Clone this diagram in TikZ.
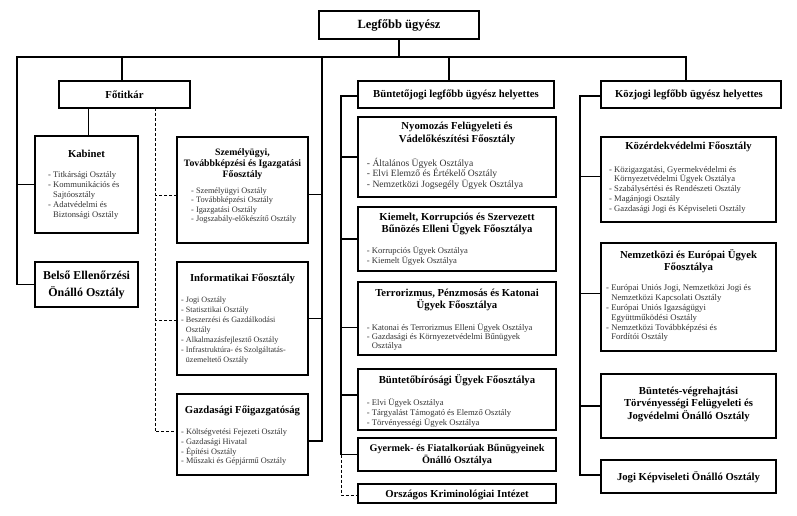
\documentclass[tikz,border=0pt]{standalone}
\usepackage{fontspec}
\setmainfont{Liberation Serif}
\newcommand\ist{\rule{0pt}{8.5pt}}
\newcommand\hg{\hphantom{- }}
\begin{document}
\begin{tikzpicture}[x=1pt,y=-1pt,
  box/.style={draw, line width=1.5pt, inner sep=0pt, outer sep=0pt, anchor=north west},
  conn/.style={line width=1.2pt},
  dconn/.style={line width=0.9pt, dash pattern=on 3pt off 2pt},
  ttl/.style={font=\bfseries\fontsize{10.7}{12}\selectfont, align=center, inner sep=0pt},
  itm/.style={font=\fontsize{8.6}{10}\selectfont, text=black!80, align=left, anchor=north west, inner sep=0pt}]
\useasboundingbox[fill=white] (0,0) rectangle (797,516);

% ---------- boxes ----------
\node[box, minimum width=160pt, minimum height=28pt] (top) at (319,11) {};
\node[box, minimum width=131pt, minimum height=27pt] (fo) at (59,81) {};
\node[box, minimum width=103pt, minimum height=97pt] (kab) at (35,136) {};
\node[box, minimum width=103pt, minimum height=45pt] (bel) at (35,262) {};
\node[box, minimum width=131pt, minimum height=106pt] (szem) at (177,137) {};
\node[box, minimum width=131pt, minimum height=113pt] (inf) at (177,262) {};
\node[box, minimum width=131pt, minimum height=81pt] (gaz) at (177,394) {};
\node[box, minimum width=196pt, minimum height=27pt] (bj) at (358,81) {};
\node[box, minimum width=198pt, minimum height=80pt] (nyo) at (358,117) {};
\node[box, minimum width=198pt, minimum height=64pt] (kie) at (358,207) {};
\node[box, minimum width=198pt, minimum height=73pt] (ter) at (358,282) {};
\node[box, minimum width=198pt, minimum height=61pt] (bir) at (358,369) {};
\node[box, minimum width=198pt, minimum height=33pt] (gyer) at (358,438) {};
\node[box, minimum width=198pt, minimum height=19pt] (orsz) at (358,484) {};
\node[box, minimum width=180pt, minimum height=27pt] (kj) at (601,81) {};
\node[box, minimum width=175pt, minimum height=85pt] (kozer) at (601,137) {};
\node[box, minimum width=175pt, minimum height=108pt] (nemz) at (601,243) {};
\node[box, minimum width=175pt, minimum height=64pt] (bv) at (601,374) {};
\node[box, minimum width=175pt, minimum height=33pt] (jk) at (601,460) {};

% ---------- titles ----------
\node[ttl, font=\bfseries\fontsize{12.5}{14}\selectfont] (topT) at (399,25) {Legfőbb ügyész};
\node[ttl] (foT) at (124.5,95) {Főtitkár};
\node[ttl] (kabT) at (86.5,154) {Kabinet};
\node[ttl, font=\bfseries\fontsize{12}{16.5}\selectfont] (belT) at (86.5,285) {Belső Ellenőrzési\\Önálló Osztály};
\node[ttl, font=\bfseries\fontsize{9.8}{11}\selectfont] (szemT) at (242.5,164.3) {Személyügyi,\\Továbbképzési és Igazgatási\\Főosztály};
\node[ttl] (infT) at (242.5,279.3) {Informatikai Főosztály};
\node[ttl] (gazT) at (242.5,410.7) {Gazdasági Főigazgatóság};
\node[ttl] (bjT) at (456,95) {Büntetőjogi legfőbb ügyész helyettes};
\node[ttl, font=\bfseries\fontsize{10.7}{12.7}\selectfont] (nyoT) at (457,133.7) {Nyomozás Felügyeleti és\\Vádelőkészítési Főosztály};
\node[ttl] (kieT) at (457,223.5) {Kiemelt, Korrupciós és Szervezett\\Bűnözés Elleni Ügyek Főosztálya};
\node[ttl] (terT) at (457,300) {Terrorizmus, Pénzmosás és Katonai\\Ügyek Főosztálya};
\node[ttl] (birT) at (457,380) {Büntetőbírósági Ügyek Főosztálya};
\node[ttl, font=\bfseries\fontsize{10.2}{11.7}\selectfont] (gyerT) at (457,455) {Gyermek- és Fiatalkorúak Bűnügyeinek\\Önálló Osztálya};
\node[ttl] (orszT) at (457,494.5) {Országos Kriminológiai Intézet};
\node[ttl] (kjT) at (689,95) {Közjogi legfőbb ügyész helyettes};
\node[ttl] (kozerT) at (688.5,147.3) {Közérdekvédelmi Főosztály};
\node[ttl] (nemzT) at (688.5,261) {Nemzetközi és Európai Ügyek\\Főosztálya};
\node[ttl, font=\bfseries\fontsize{10.7}{12.5}\selectfont] (bvT) at (688.5,404.3) {Büntetés-végrehajtási\\Törvényességi Felügyeleti és\\Jogvédelmi Önálló Osztály};
\node[ttl] (jkT) at (688.5,477) {Jogi Képviseleti Önálló Osztály};

% ---------- item lists ----------
\node[itm] (kabI) at (48,169) {\ist- Titkársági Osztály\\- Kommunikációs és\\\hg Sajtóosztály\\- Adatvédelmi és\\\hg Biztonsági Osztály};
\node[itm, font=\fontsize{8.3}{9.2}\selectfont] (szemI) at (191,185) {\ist- Személyügyi Osztály\\- Továbbképzési Osztály\\- Igazgatási Osztály\\- Jogszabály-előkészítő Osztály};
\node[itm, font=\fontsize{8.1}{10}\selectfont] (infI) at (181,293.3) {\ist- Jogi Osztály\\- Statisztikai Osztály\\- Beszerzési és Gazdálkodási\\\hg Osztály\\- Alkalmazásfejlesztő Osztály\\- Infrastruktúra- és Szolgáltatás-\\\hg üzemeltető Osztály};
\node[itm, font=\fontsize{8.3}{9.8}\selectfont] (gazI) at (181,425.7) {\ist- Költségvetési Fejezeti Osztály\\- Gazdasági Hivatal\\- Építési Osztály\\- Műszaki és Gépjármű Osztály};
\node[itm, font=\fontsize{9.6}{10.5}\selectfont] (nyoI) at (366.7,157.3) {\ist- Általános Ügyek Osztálya\\- Elvi Elemző és Értékelő Osztály\\- Nemzetközi Jogsegély Ügyek Osztálya};
\node[itm] (kieI) at (366.7,245) {\ist- Korrupciós Ügyek Osztálya\\- Kiemelt Ügyek Osztálya};
\node[itm, font=\fontsize{8.6}{9.4}\selectfont] (terI) at (366.7,321.3) {\ist- Katonai és Terrorizmus Elleni Ügyek Osztálya\\- Gazdasági és Környezetvédelmi Bűnügyek\\\hg Osztálya};
\node[itm, font=\fontsize{8.6}{9.8}\selectfont] (birI) at (366.7,396.7) {\ist- Elvi Ügyek Osztálya\\- Tárgyalást Támogató és Elemző Osztály\\- Törvényességi Ügyek Osztálya};
\node[itm, font=\fontsize{8.6}{9.75}\selectfont] (kozerI) at (609,163.3) {\ist- Közigazgatási, Gyermekvédelmi és\\\hg Környezetvédelmi Ügyek Osztálya\\- Szabálysértési és Rendészeti Osztály\\- Magánjogi Osztály\\- Gazdasági Jogi és Képviseleti Osztály};
\node[itm, font=\fontsize{8.7}{9.9}\selectfont] (nemzI) at (606,281.7) {\ist- Európai Uniós Jogi, Nemzetközi Jogi és\\\hg Nemzetközi Kapcsolati Osztály\\- Európai Uniós Igazságügyi\\\hg Együttműködési Osztály\\- Nemzetközi Továbbképzési és\\\hg Fordítói Osztály};

% ---------- connectors ----------
\coordinate (barL) at (17,57);
\coordinate (barR) at (686,57);
\coordinate (barF) at (122,57);
\coordinate (barM) at (322,57);
\coordinate (barB) at (449,57);
\coordinate (midV) at (341,96);
\coordinate (rightV) at (580,96);
\coordinate (foS) at ([xshift=-36pt]fo.south);
\coordinate (foD) at ([xshift=30.5pt]fo.south);

\draw[conn] (top.south) -- (top.south |- barL);
\draw[conn] (bel.west) -| (barL) -- (barR) -- (barR |- kj.north);
\draw[conn] (kab.west) -- (kab.west -| barL);
\draw[conn] (barF) -- (barF |- fo.north);
\draw[conn] (barB) -- (barB |- bj.north);
% right branch of the Főtitkár column, fed from the main bar
\draw[conn] (barM) |- ([yshift=-6.5pt]gaz.east);
\draw[conn] ([yshift=-4.7pt]szem.east) -- ([yshift=-4.7pt]szem.east -| barM);
\draw[conn] (inf.east) -- (inf.east -| barM);
% Főtitkár
\draw[conn] (foS) -- (foS |- kab.north);
\draw[dconn] (foD) |- ([yshift=2.8pt]gaz.west);
\draw[dconn] ([yshift=-5.7pt]szem.west) -- ([yshift=-5.7pt]szem.west -| foD);
\draw[dconn] ([yshift=-1.7pt]inf.west) -- ([yshift=-1.7pt]inf.west -| foD);
% Büntetőjogi branch
\draw[conn] ([yshift=-1.5pt]bj.west) -- (midV) |- (gyer.west);
\draw[conn] (nyo.west) -- (nyo.west -| midV);
\draw[conn] (kie.west) -- (kie.west -| midV);
\draw[conn] ([yshift=-8.8pt]ter.west) -- ([yshift=-8.8pt]ter.west -| midV);
\draw[conn] ([yshift=4.5pt]bir.west) -- ([yshift=4.5pt]bir.west -| midV);
\draw[dconn] (gyer.west -| midV) |- ([yshift=-1.5pt]orsz.west);
% Közjogi branch
\draw[conn] ([yshift=-1.5pt]kj.west) -- (rightV) |- ([yshift=1.5pt]jk.west);
\draw[conn] ([yshift=2.8pt]kozer.west) -- ([yshift=2.8pt]kozer.west -| rightV);
\draw[conn] ([yshift=3.7pt]nemz.west) -- ([yshift=3.7pt]nemz.west -| rightV);
\draw[conn] (bv.west) -- (bv.west -| rightV);
\end{tikzpicture}
\end{document}
